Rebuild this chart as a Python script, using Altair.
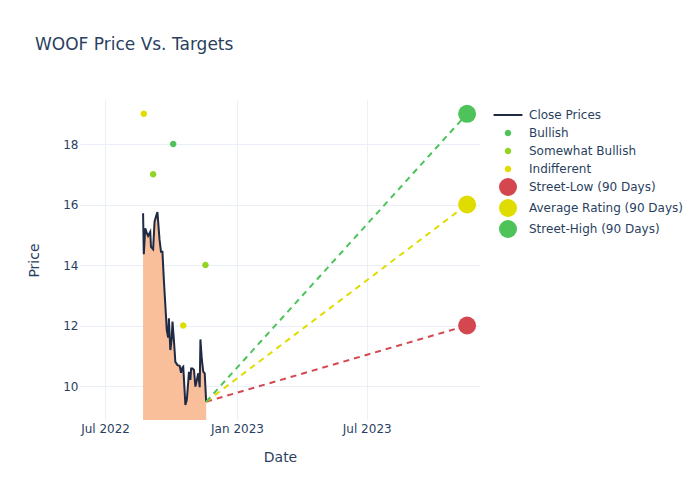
import altair as alt
import pandas as pd

# ---- data ----
price_dates = ["2022-08-23", "2022-08-24", "2022-08-26", "2022-08-28", "2022-08-30", "2022-09-02",
               "2022-09-03", "2022-09-06", "2022-09-08", "2022-09-10", "2022-09-12", "2022-09-15",
               "2022-09-17", "2022-09-19", "2022-09-21", "2022-09-24", "2022-09-25", "2022-09-27",
               "2022-09-28", "2022-09-30", "2022-10-02", "2022-10-03", "2022-10-05", "2022-10-07",
               "2022-10-10", "2022-10-13", "2022-10-15", "2022-10-17", "2022-10-18", "2022-10-20",
               "2022-10-21", "2022-10-23", "2022-10-25", "2022-10-26", "2022-10-28", "2022-10-29",
               "2022-10-31", "2022-11-02", "2022-11-04", "2022-11-06", "2022-11-08", "2022-11-10",
               "2022-11-11", "2022-11-13", "2022-11-15", "2022-11-17", "2022-11-19"]
price_values = [15.71, 14.36, 15.21, 15.07, 14.96, 15.10, 14.60, 14.52, 15.43, 15.60,
                15.75, 14.83, 14.44, 14.44, 13.50, 12.29, 11.85, 11.60, 12.24, 11.19,
                11.58, 12.13, 11.52, 10.80, 10.69, 10.67, 10.44, 10.62, 10.64, 9.81,
                9.37, 9.54, 10.14, 10.47, 10.20, 10.58, 10.58, 10.53, 9.98, 10.20,
                10.42, 9.96, 11.54, 10.86, 10.47, 10.42, 9.48]

rating_dates = ["2022-08-24", "2022-09-06", "2022-10-04", "2022-10-18", "2022-11-18"]
rating_values = [19, 17, 18, 12, 14]
rating_types = ["Indifferent", "Somewhat Bullish", "Bullish", "Indifferent", "Somewhat Bullish"]

target_names = ["Street-Low (90 Days)", "Average Rating (90 Days)", "Street-High (90 Days)"]
target_values = [12, 16, 19]
target_date = "2023-11-18"

series_order = ["Close Prices", "Bullish", "Somewhat Bullish", "Indifferent"] + target_names
series_colors = ["#1f2a44", "#4dc35a", "#92d323", "#e0dc00", "#d5474f", "#e0dc00", "#4dc35a"]
line_symbol = "M-1.6,-0.11L1.6,-0.11L1.6,0.11L-1.6,0.11Z"
small_dot = "M0.36,0A0.36,0.36,0,1,1,-0.36,0A0.36,0.36,0,1,1,0.36,0Z"
series_shapes = [line_symbol, small_dot, small_dot, small_dot, "circle", "circle", "circle"]
SYMBOL_SIZE = 324

# ---- tables ----
prices = pd.DataFrame({"date": price_dates, "price": price_values, "series": "Close Prices"})
ratings = pd.DataFrame({"date": rating_dates, "price": rating_values, "series": rating_types})
targets = pd.DataFrame({"date": [target_date] * 3, "price": target_values, "series": target_names})
last_date = price_dates[-1]
last_price = price_values[-1]
dashes = pd.DataFrame({"date": [last_date] * 3, "price": [last_price] * 3,
                       "date2": [target_date] * 3, "price2": target_values,
                       "series": target_names})

FONT = "DejaVu Sans"
TXT = "#2a3f5f"
GRID = "#ebf0f8"

x_scale = alt.Scale(domain=["2022-05-27", "2023-12-06"])
y_scale = alt.Scale(domain=[8.876, 19.455], zero=False, nice=False)

x_axis = alt.Axis(
    title="Date",
    values=[alt.DateTime(year=2022, month=7, date=1), alt.DateTime(year=2023, month=1, date=1),
            alt.DateTime(year=2023, month=7, date=1)],
    format="%b %Y", labelFontSize=12, labelColor=TXT, labelFont=FONT,
    titleFont=FONT, titleFontSize=14, titleColor=TXT, titleFontWeight="normal",
    titleY=41, titleBaseline="alphabetic",
    grid=True, gridColor=GRID, domain=False, ticks=False, tickSize=0, labelPadding=3,
)
y_axis = alt.Axis(
    title="Price", values=[10, 12, 14, 16, 18],
    labelFontSize=12, labelColor=TXT, labelFont=FONT, labelPadding=2,
    titleFont=FONT, titleFontSize=14, titleColor=TXT, titleFontWeight="normal",
    titleX=-46, titleY=160, titleAngle=-90, titleAlign="center", titleBaseline="middle",
    grid=True, gridColor=GRID, domain=False, ticks=False, tickSize=0,
)

legend = alt.Legend(
    title=None, orient="none", legendX=419, legendY=6,
    labelFont=FONT, labelFontSize=12, labelColor=TXT, labelOffset=12,
    symbolStrokeWidth=0, rowPadding=3, symbolOpacity=1, symbolSize=SYMBOL_SIZE,
)
color_enc = alt.Color("series:N", scale=alt.Scale(domain=series_order, range=series_colors), legend=legend)
shape_enc = alt.Shape("series:N", scale=alt.Scale(domain=series_order, range=series_shapes), legend=legend)

X = alt.X("date:T", scale=x_scale, axis=x_axis)
Y = alt.Y("price:Q", scale=y_scale, axis=y_axis)

area = alt.Chart(prices).mark_area(color="#f9be9a", opacity=1, clip=True).encode(x=X, y=Y)
line = alt.Chart(prices).mark_line(strokeWidth=2, clip=True).encode(x=X, y=Y, color=color_enc)

rule_layers = []
for name in target_names:
    c = series_colors[series_order.index(name)]
    rule_layers.append(
        alt.Chart(dashes[dashes["series"] == name]).mark_rule(
            color=c, strokeDash=[6, 5], strokeWidth=2
        ).encode(x=X, y=Y, x2="date2:T", y2="price2:Q")
    )

rating_pts = alt.Chart(ratings).mark_point(filled=True, opacity=1, size=SYMBOL_SIZE).encode(
    x=X, y=Y, color=color_enc, shape=shape_enc
)
target_pts = alt.Chart(targets).mark_point(filled=True, opacity=1, size=SYMBOL_SIZE).encode(
    x=X, y=Y, color=color_enc, shape=shape_enc
)

chart = alt.layer(area, line, *rule_layers, rating_pts, target_pts).properties(
    width=400, height=320,
    autosize=alt.AutoSizeParams(type="none"),
    padding={"left": 72, "top": 92, "right": 212, "bottom": 72},
    title=alt.TitleParams("WOOF Price Vs. Targets", anchor="start", dx=8, offset=33,
                          baseline="alphabetic", font=FONT, fontSize=17, color=TXT,
                          fontWeight="normal"),
).configure(background="white").configure_view(strokeWidth=0, stroke="transparent")

chart.save("out.html", embed_options={"renderer": "svg", "actions": False})
